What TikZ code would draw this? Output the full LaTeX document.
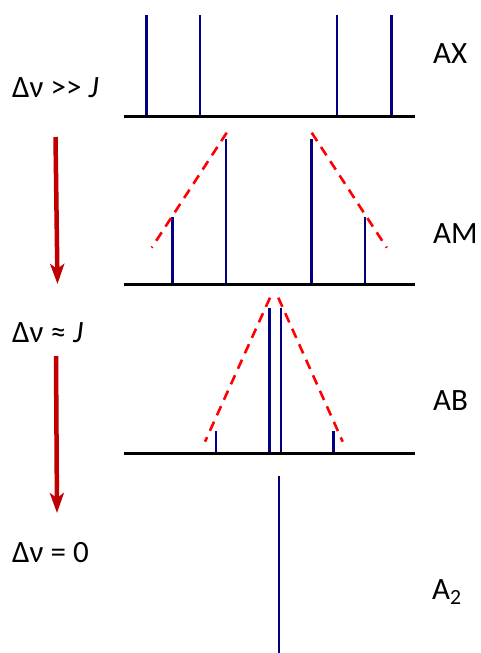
\documentclass[tikz,border=0pt]{standalone}
\usepackage{fontspec}
\setmainfont{Carlito}
\usepackage{tikz}
\usetikzlibrary{arrows.meta, positioning}
\definecolor{peakblue}{HTML}{000080}
\definecolor{arrowred}{HTML}{C00000}

\begin{document}
\begin{tikzpicture}[x=1pt, y=-1pt,
    base/.style={line width=3pt},
    peak/.style={draw=peakblue, line width=2.8pt},
    roof/.style={draw=red, line width=2.6pt, dash pattern=on 10pt off 7pt},
    trend/.style={draw=arrowred, line width=4.5pt, -{Stealth[length=20pt, width=14pt, inset=5pt]}},
    lbl/.style={font=\fontsize{31}{37}\selectfont, anchor=base west, inner sep=0pt}]
    \useasboundingbox (0,0) rectangle (480,653);

    % AX: four equal lines
    \foreach \x in {146.7, 200, 337, 391.7}
        \draw[peak] (\x,116) -- (\x,15);
    \draw[base] (124,116) -- (415,116);
    \node[lbl] (ax) at (433,63) {AX};

    % AM: roofing
    \foreach \x/\h in {172.7/217, 226/139, 311.7/139, 365/217}
        \draw[peak] (\x,284) -- (\x,\h);
    \draw[roof] (226.7,132.7) -- (151.7,247.7);
    \draw[roof] (311.7,132.7) -- (386.7,247.7);
    \draw[base] (124,284) -- (415,284);
    \node[lbl] (am) at (433,243) {AM};

    % AB: strong roofing
    \foreach \x/\h in {216/431, 269.3/307.7, 281/307.7, 333.3/431}
        \draw[peak] (\x,453) -- (\x,\h);
    \draw[roof] (270,297.7) -- (205,441.7);
    \draw[roof] (278.3,297.7) -- (342.7,441.7);
    \draw[base] (124,453) -- (415,453);
    \node[lbl] (ab) at (433,410) {AB};

    % A2: single line
    \draw[peak] (279,653) -- (279,476);
    \node[lbl] (a2) at (432,599) {A\textsubscript{2}};

    % left side
    \node[lbl] (far) at (12,97) {Δν >\kern0pt> \textit{J}};
    \node[lbl] (near) at (12,342) {Δν ≈ \textit{J}};
    \node[lbl] (same) at (12,562) {Δν = 0};

    \coordinate (s1) at (55.5,137);
    \coordinate (e1) at (57.5,284);
    \coordinate (s2) at (56,356);
    \coordinate (e2) at (57,513);
    \draw[trend] (s1) -- (e1);
    \draw[trend] (s2) -- (e2);
\end{tikzpicture}
\end{document}
